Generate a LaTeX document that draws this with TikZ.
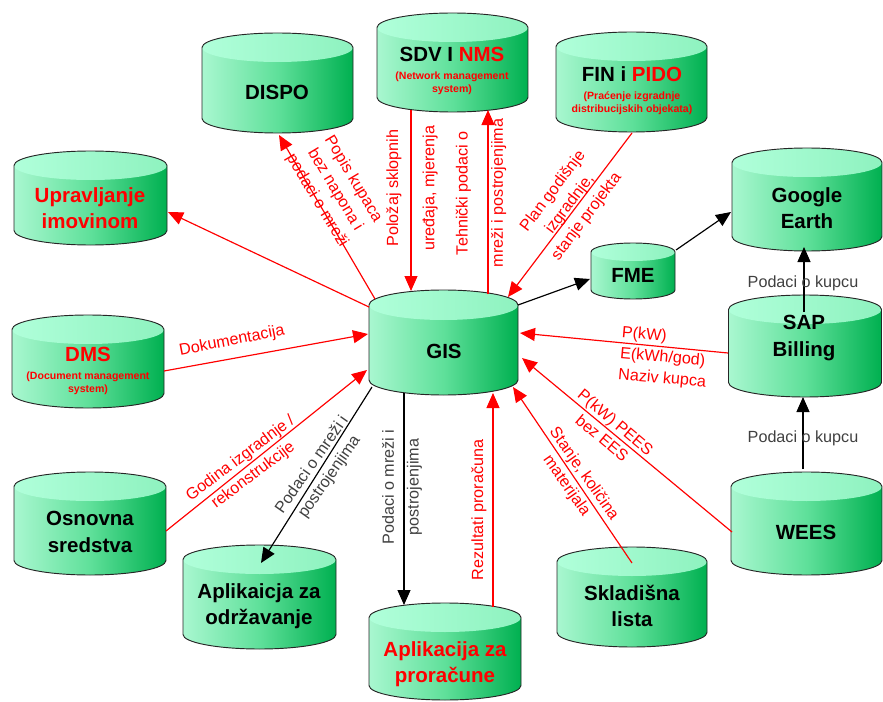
\documentclass[tikz,border=0pt]{standalone}
\usepackage{fontspec}
\setmainfont{Liberation Sans}
\usepackage{xcolor}
\usepackage{tikz}
\usetikzlibrary{arrows.meta}

\definecolor{cylL}{HTML}{A9F7D0}
\definecolor{cylM}{HTML}{5FE09A}
\definecolor{cylR}{HTML}{00B050}
\definecolor{capL}{HTML}{B0FFDA}
\definecolor{capR}{HTML}{8EF2BF}
\definecolor{lblred}{HTML}{FF0000}
\definecolor{lblgray}{HTML}{404040}

% database cylinder: centre x, centre y, width, height, cap radius (px, y down)
\newcommand{\dbcyl}[5]{%
  \shade[left color=cylL, right color=cylR, middle color=cylM]
    (#1-#3/2,#2-#4/2+#5) -- (#1-#3/2,#2+#4/2-#5)
    arc[start angle=180, end angle=360, x radius=#3*0.015cm, y radius=#5*0.03cm]
    -- (#1+#3/2,#2-#4/2+#5) -- cycle;
  \shade[left color=capL, right color=capR]
    (#1,#2-#4/2+#5) ellipse[x radius=#3*0.015cm, y radius=#5*0.03cm];
  \draw[cylline]
    (#1-#3/2,#2-#4/2+#5) -- (#1-#3/2,#2+#4/2-#5)
    arc[start angle=180, end angle=360, x radius=#3*0.015cm, y radius=#5*0.03cm]
    -- (#1+#3/2,#2-#4/2+#5)
    arc[start angle=0, end angle=180, x radius=#3*0.015cm, y radius=#5*0.03cm];
}

\tikzset{
  cylline/.style={draw=black!85, line width=0.8pt},
  dbtext/.style={align=center, inner sep=0pt, font=\fontsize{17.5}{22.5}\selectfont\bfseries},
  redarr/.style={draw=lblred, line width=1pt, -{Triangle[length=4.5mm, width=3.9mm]}},
  blkarr/.style={draw=black, line width=1pt, -{Triangle[length=4.5mm, width=3.9mm]}},
  redlbl/.style={text=lblred, align=center, inner sep=0pt, font=\fontsize{13.8}{18}\selectfont},
  graylbl/.style={redlbl, text=lblgray},
}
\newcommand{\dbsub}{\fontsize{9}{11}\selectfont\color{lblred}}

\begin{document}
\begin{tikzpicture}[x=0.03cm, y=-0.03cm]
  \useasboundingbox (0,0) rectangle (883,702);

  % databases
  \dbcyl{277.5}{83}{151}{100}{14.5}
  \node[dbtext] (dispo) at (277,92) {DISPO};
  \dbcyl{452.5}{62.5}{151}{99}{14.5}
  \node[dbtext] (sdv) at (452,71) {SDV I \textcolor{lblred}{NMS}\\[-7pt]\dbsub (Network management\\[-11.5pt]\dbsub system)};
  \dbcyl{631.5}{82}{151}{100}{14.5}
  \node[dbtext] (fin) at (632,91) {FIN i \textcolor{lblred}{PIDO}\\[-7pt]\dbsub (Praćenje izgradnje\\[-11.5pt]\dbsub distribucijskih objekata)};
  \dbcyl{90.5}{198}{153}{94}{14.5}
  \node[dbtext, text=lblred] (upr) at (90,208) {Upravljanje\\imovinom};
  \dbcyl{88}{361.5}{152}{93}{14.5}
  \node[dbtext] (dms) at (88,371) {\textcolor{lblred}{DMS}\\[-7pt]\dbsub (Document management\\[-11.5pt]\dbsub system)};
  \dbcyl{90}{523.5}{152}{103}{14.5}
  \node[dbtext] (osn) at (90,532) {Osnovna\\sredstva};
  \dbcyl{259.5}{597}{153}{104}{14.5}
  \node[dbtext] (odr) at (259,606) {Aplikaicja za\\održavanje};
  \dbcyl{445}{651.5}{152}{97}{14.5}
  \node[dbtext, text=lblred] (pror) at (445,664) {Aplikacija za\\proračune};
  \dbcyl{632}{597}{150}{100}{14.5}
  \node[dbtext] (skl) at (632,606) {Skladišna\\lista};
  \dbcyl{806.5}{523.5}{151}{103}{14.5}
  \node[dbtext] (wees) at (806,532) {WEES};
  \dbcyl{805}{346}{153}{102}{14.5}
  \node[dbtext] (sap) at (804,338) {SAP\\Billing};
  \dbcyl{807}{199.5}{150}{103}{14.5}
  \node[dbtext] (ge) at (807,208) {Google\\Earth};
  \dbcyl{633}{271}{84}{56}{9}
  \node[dbtext] (fme) at (633,275) {FME};
  \dbcyl{443.5}{342.5}{149}{105}{15}
  \node[dbtext] (gis) at (444,351) {GIS};

  % data flows
  \draw[redarr] ([shift={(-75,-44)}]gis.center) -- ([shift={(78,4)}]upr.center);
  \draw[redarr] ([shift={(-69,-52)}]gis.center) -- ([shift={(2,43)}]dispo.center);
  \draw[redarr] ([shift={(-41,39)}]sdv.center) -- ([shift={(-33,-60)}]gis.center);
  \draw[redarr] ([shift={(44,-57)}]gis.center) -- ([shift={(36,39)}]sdv.center);
  \draw[redarr] ([shift={(0,42)}]fin.center) -- ([shift={(64,-54)}]gis.center);
  \draw[redarr] ([shift={(76,0)}]dms.center) -- ([shift={(-76,-17)}]gis.center);
  \draw[redarr] ([shift={(76,-1)}]osn.center) -- ([shift={(-77,19)}]gis.center);
  \draw[redarr] ([shift={(48,-57)}]pror.center) -- ([shift={(49,42)}]gis.center);
  \draw[redarr] ([shift={(0,-43)}]skl.center) -- ([shift={(69,36)}]gis.center);
  \draw[redarr] ([shift={(-74,0)}]wees.center) -- ([shift={(78,7)}]gis.center);
  \draw[redarr] ([shift={(-76,15)}]sap.center) -- ([shift={(76,-18)}]gis.center);
  \draw[blkarr] ([shift={(74,-46)}]gis.center) -- ([shift={(-43,4)}]fme.center);
  \draw[blkarr] ([shift={(43,-25)}]fme.center) -- ([shift={(-76,4)}]ge.center);
  \draw[blkarr] ([shift={(0,-26)}]sap.center) -- ([shift={(-3,39)}]ge.center);
  \draw[blkarr] ([shift={(-3,-63)}]wees.center) -- ([shift={(-1,59)}]sap.center);
  \draw[blkarr] ([shift={(-72,36)}]gis.center) -- ([shift={(2,-43)}]odr.center);
  \draw[blkarr] ([shift={(-40,42)}]gis.center) -- ([shift={(-41,-59)}]pror.center);

  % flow labels
  \node[redlbl, rotate=-59] (l-dispo) at (335,190) {Popis kupaca\\bez napona i\\podaci o mreži};
  \node[redlbl, rotate=90] (l-sdv) at (412,188) {Položaj sklopnih\\[13pt]uređaja, mjerenja};
  \node[redlbl, rotate=90] (l-gis) at (481,193) {Tehnički podaci o\\[12pt]mreži i postrojenjima};
  \node[redlbl, rotate=53] (l-fin) at (570,204) {Plan godišnje\\izgradnje,\\stanje projekta};
  \node[redlbl, rotate=11] (l-dms) at (232,341) {Dokumentacija};
  \node[redlbl, rotate=37] (l-osn) at (247,467) {Godina izgradnje /\\rekonstrukcije};
  \node[graylbl, rotate=55] (l-odr) at (321,471) {Podaci o mreži i\\postrojenjima};
  \node[graylbl, rotate=90] (l-pror) at (402,487) {Podaci o mreži i\\[3pt]postrojenjima};
  \node[redlbl, rotate=90] (l-rez) at (479,510) {Rezultati proračuna};
  \node[redlbl, rotate=-55] (l-skl) at (575,480) {Stanje, količina\\materijala};
  \node[redlbl, rotate=-40] (l-wees) at (609,430) {P(kW) PEES\\bez EES};
  \node[redlbl, rotate=-5, align=left] (l-sap) at (664,358) {P(kW)\\E(kWh/god)\\Naziv kupca};
  \node[graylbl] (l-ge) at (803,283) {Podaci o kupcu};
  \node[graylbl] (l-kup) at (803,438) {Podaci o kupcu};
\end{tikzpicture}
\end{document}
